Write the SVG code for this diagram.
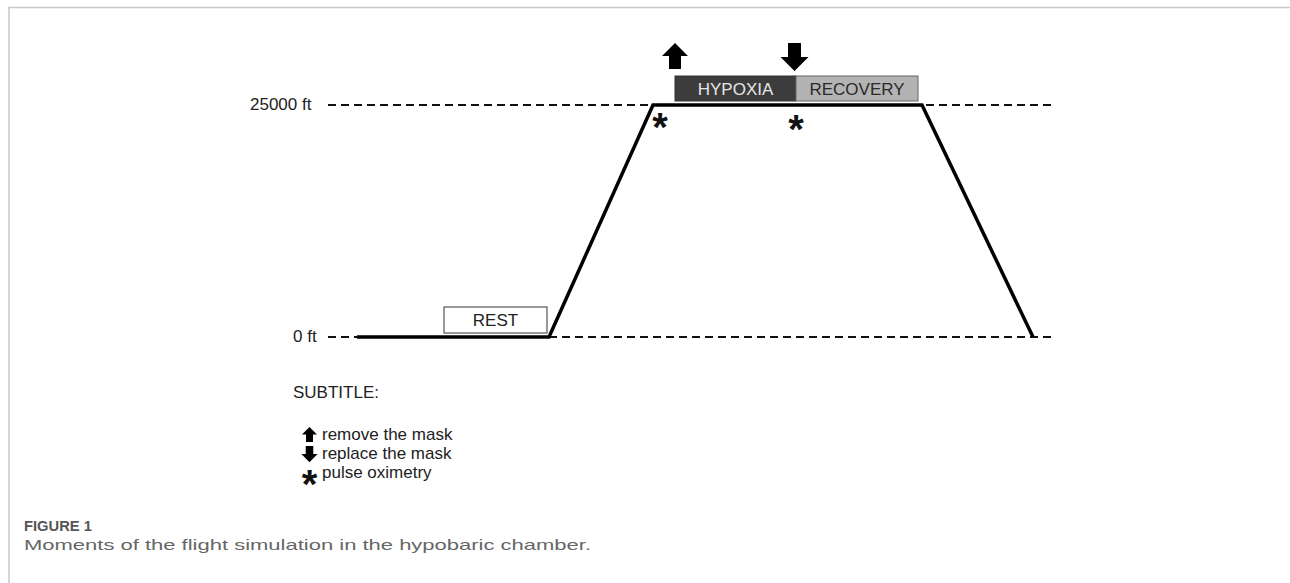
<svg xmlns="http://www.w3.org/2000/svg" width="1290" height="583" viewBox="0 0 1290 583">
<style>
.t{font-family:"Liberation Sans",Arial,sans-serif;font-size:17px;fill:#222}
.ast{font-family:"Liberation Sans",Arial,sans-serif;font-size:40px;font-weight:bold;fill:#111;text-anchor:middle}
.dash{stroke:#111;stroke-width:2;stroke-dasharray:8 5;fill:none}
.prof{stroke:#000;stroke-width:3.5;fill:none;stroke-linejoin:miter}
.cap1{font-family:"Liberation Sans",Arial,sans-serif;font-size:14px;font-weight:bold;fill:#555}
.cap2{font-family:"Liberation Sans",Arial,sans-serif;font-size:15px;fill:#666}
</style>
<defs>
<path id="up" d="M-13,13 L0,0 L13,13 L6,13 L6,26 L-6,26 L-6,13 Z" fill="#000"/>
<path id="down" d="M-6.5,0 L6.5,0 L6.5,14 L14,14 L0,28 L-14,14 L-6.5,14 Z" fill="#000"/>
</defs>
<rect width="1290" height="583" fill="#fff"/>
<g id="frame" stroke="#c8c8c8" stroke-width="1.5" fill="none">
<path d="M9,583 L9,7.5 L1290,7.5"/>
</g>
<g id="axes">
<text class="t" x="250" y="110">25000 ft</text>
<text class="t" x="293" y="342">0 ft</text>
</g>
<g id="connectors">
<line class="dash" x1="328" y1="105" x2="1056" y2="105"/>
<line class="dash" x1="328" y1="337" x2="1056" y2="337"/>
<polyline class="prof" points="357,337 549,337 653,105 922,105 1033,337"/>
</g>
<g id="rest">
<rect x="444" y="307" width="103" height="26" fill="#fff" stroke="#555" stroke-width="1.2"/>
<text class="t" x="495.5" y="326" text-anchor="middle">REST</text>
</g>
<g id="hypoxia">
<rect x="675" y="76" width="121" height="25" fill="#3c3c3c" stroke="#333" stroke-width="1"/>
<text class="t" x="735.5" y="95" text-anchor="middle" style="fill:#e6e6e6">HYPOXIA</text>
</g>
<g id="recovery">
<rect x="796" y="76" width="122" height="25" fill="#b3b3b3" stroke="#666" stroke-width="1"/>
<text class="t" x="857" y="95" text-anchor="middle" style="fill:#2a2a2a">RECOVERY</text>
</g>
<g id="markers">
<use href="#up" x="675" y="43"/>
<use href="#down" x="794.5" y="43"/>
<text class="ast" x="660" y="141">*</text>
<text class="ast" x="796" y="143">*</text>
</g>
<g id="legend">
<text class="t" x="293" y="398">SUBTITLE:</text>
<use href="#up" transform="translate(309.5,427) scale(0.58)"/>
<text class="t" x="322" y="440">remove the mask</text>
<use href="#down" transform="translate(309.5,446) scale(0.58)"/>
<text class="t" x="322" y="459">replace the mask</text>
<text class="ast" x="309.5" y="498">*</text>
<text class="t" x="322" y="478">pulse oximetry</text>
</g>
<g id="caption">
<text class="cap1" x="24" y="531" textLength="68" lengthAdjust="spacingAndGlyphs">FIGURE 1</text>
<text class="cap2" x="24" y="550" textLength="567" lengthAdjust="spacingAndGlyphs">Moments of the flight simulation in the hypobaric chamber.</text>
</g>
</svg>
